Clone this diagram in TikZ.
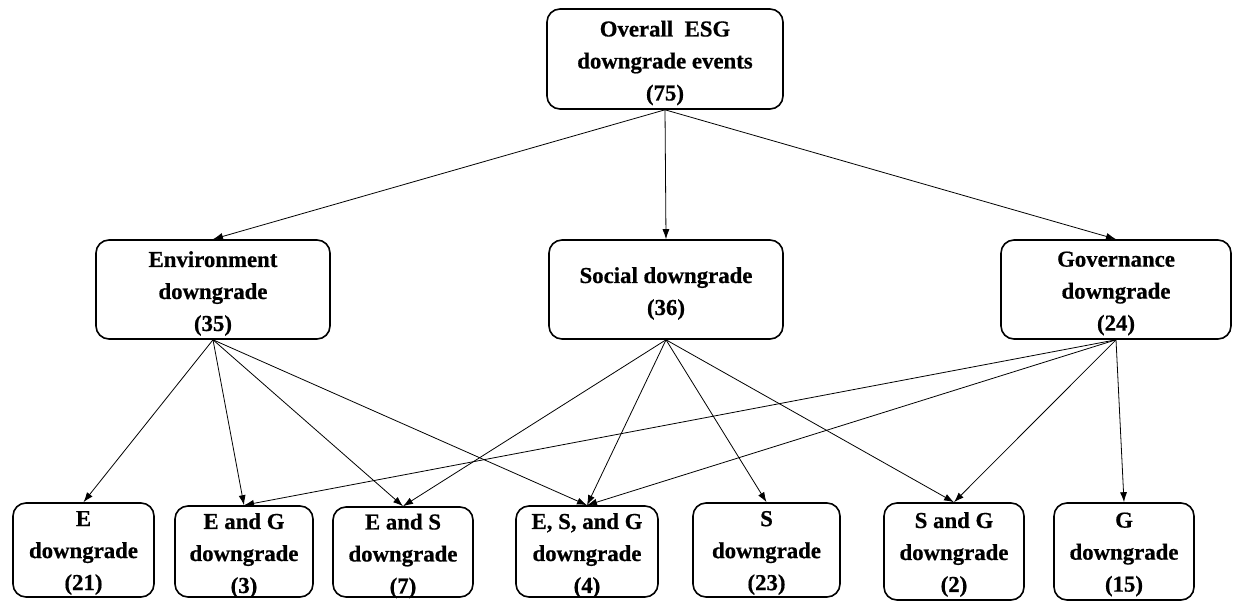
\documentclass[tikz,border=0pt]{standalone}
\usepackage{fontspec}
\setmainfont{Liberation Serif}[BoldFeatures={FakeBold=0.6}]
\usetikzlibrary{arrows.meta}
\begin{document}
\begin{tikzpicture}[x=1pt,y=-1pt,
  box/.style={draw, line width=1.6pt, rounded corners=13pt, inner sep=0pt},
  txt/.style={inner sep=0pt, align=center, yshift=-4pt,
    font=\fontsize{22.8}{32}\selectfont\bfseries},
  conn/.style={line width=0.8pt, -{Latex[length=10pt,width=7pt]}}]
\useasboundingbox (0,0) rectangle (1233,602);
\node[box, minimum width=236pt, minimum height=100pt] (top) at (665,59) {};
\node[box, minimum width=234pt, minimum height=99pt] (env) at (213,289.5) {};
\node[box, minimum width=234pt, minimum height=99pt] (soc) at (666,289.5) {};
\node[box, minimum width=230pt, minimum height=99pt] (gov) at (1116,289.5) {};
\node[box, minimum width=141pt, minimum height=94pt] (e) at (83.5,550) {};
\node[box, minimum width=138pt, minimum height=91pt] (eg) at (244,551.5) {};
\node[box, minimum width=140pt, minimum height=90pt] (es) at (403,552) {};
\node[box, minimum width=142pt, minimum height=91pt] (esg) at (587,551.5) {};
\node[box, minimum width=147pt, minimum height=94pt] (s) at (766.5,550) {};
\node[box, minimum width=140pt, minimum height=97pt] (sg) at (954,551.5) {};
\node[box, minimum width=140pt, minimum height=97pt] (g) at (1124,551.5) {};
\node[txt] (topt) at (top.center) {Overall~ ESG\\downgrade events\\(75)};
\node[txt] (envt) at (env.center) {Environment\\downgrade\\(35)};
\node[txt] (soct) at (soc.center) {Social downgrade\\(36)};
\node[txt] (govt) at (gov.center) {Governance\\downgrade\\(24)};
\node[txt] (et) at ([yshift=1pt]e.center) {E\\downgrade\\(21)};
\node[txt] (egt) at (eg.center) {E and G\\downgrade\\(3)};
\node[txt] (est) at (es.center) {E and S\\downgrade\\(7)};
\node[txt] (esgt) at (esg.center) {E, S, and G\\downgrade\\(4)};
\node[txt] (st) at ([yshift=1pt]s.center) {S\\downgrade\\(23)};
\node[txt] (sgt) at ([yshift=1pt]sg.center) {S and G\\downgrade\\(2)};
\node[txt] (gt) at ([yshift=1pt]g.center) {G\\downgrade\\(15)};
\draw[conn] (top.south) -- (env.north);
\draw[conn] (top.south) -- (soc.north);
\draw[conn] (top.south) -- (gov.north);
\foreach \t in {e,eg,es,esg} \draw[conn] (env.south) -- (\t.north);
\foreach \t in {es,esg,s,sg} \draw[conn] (soc.south) -- (\t.north);
\foreach \t in {eg,esg,sg,g} \draw[conn] (gov.south) -- (\t.north);
\end{tikzpicture}
\end{document}
